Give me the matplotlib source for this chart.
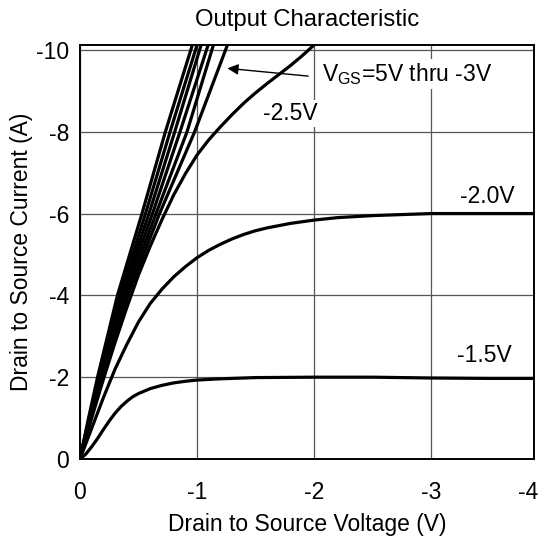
import matplotlib
matplotlib.use("Agg")
import matplotlib.pyplot as plt
from matplotlib.transforms import ScaledTranslation
import numpy as np

plt.rcParams['font.family'] = ['Liberation Sans', 'DejaVu Sans']
plt.rcParams['mathtext.fontset'] = 'custom'
plt.rcParams['mathtext.rm'] = 'Liberation Sans'
plt.rcParams['font.size'] = 16.5

# steep curves (VGS = 5V ... -3V): voltage at each current level
steep_i = [0, -1, -2, -4, -6, -8, -10.12]
steep_v = [
    [0, -0.073, -0.150, -0.320, -0.530, -0.730, -0.960],
    [0, -0.078, -0.160, -0.340, -0.560, -0.770, -1.000],
    [0, -0.080, -0.165, -0.355, -0.590, -0.810, -1.035],
    [0, -0.083, -0.170, -0.370, -0.620, -0.855, -1.095],
    [0, -0.087, -0.180, -0.390, -0.650, -0.915, -1.140],
    [0, -0.092, -0.190, -0.410, -0.680, -0.980, -1.260],
]

v25 = [0, -0.1, -0.2, -0.3, -0.4, -0.5, -0.6, -0.7, -0.8, -0.9, -1.0,
       -1.1, -1.2, -1.3, -1.4, -1.5, -1.6, -1.7, -1.8, -1.9, -2.0]
i25 = [0, -1.0, -1.95, -2.85, -3.7, -4.5, -5.2, -5.85, -6.45, -6.97, -7.43,
       -7.8, -8.12, -8.42, -8.7, -8.95, -9.18, -9.4, -9.62, -9.86, -10.12]

v20 = [0, -0.1, -0.2, -0.3, -0.4, -0.5, -0.6, -0.7, -0.8, -0.9, -1.0,
       -1.1, -1.2, -1.3, -1.4, -1.5, -1.6, -1.8, -2.0, -2.2, -2.5, -2.8,
       -3.0, -3.5, -3.88]
i20 = [0, -0.75, -1.5, -2.2, -2.8, -3.35, -3.8, -4.15, -4.45, -4.7, -4.92,
       -5.1, -5.25, -5.38, -5.49, -5.58, -5.65, -5.76, -5.84, -5.9, -5.95, -5.98,
       -6.0, -6.0, -6.0]

v15 = [0, -0.05, -0.1, -0.15, -0.2, -0.25, -0.3, -0.35, -0.4, -0.45, -0.5,
       -0.6, -0.7, -0.8, -0.9, -1.0, -1.2, -1.5, -2.0, -2.5, -3.0, -3.5, -3.88]
i15 = [0, -0.12, -0.3, -0.5, -0.72, -0.93, -1.12, -1.28, -1.41, -1.52, -1.6,
       -1.72, -1.8, -1.86, -1.9, -1.93, -1.96, -1.99, -2.0, -2.0, -1.98, -1.97, -1.97]

xticks = [0, -1, -2, -3, -3.88]
xtick_labels = ['0', '-1', '-2', '-3', '-4']
yticks = [0, -2, -4, -6, -8, -10]
ytick_labels = ['0', '-2', '-4', '-6', '-8', '-10']

fig = plt.figure(figsize=(5.39, 5.43), dpi=100)
ax = fig.add_axes([0.1484, 0.1547, 0.8423, 0.7624])

lw = 2.3
for v in steep_v:
    ax.plot(v, steep_i, color='black', lw=lw, zorder=3)
ax.plot(v25, i25, color='black', lw=lw, zorder=3)
ax.plot(v20, i20, color='black', lw=lw, zorder=3)
ax.plot(v15, i15, color='black', lw=lw, zorder=3)

ax.set_xlim(0, -3.88)
ax.set_ylim(0, -10.12)
ax.set_xticks(xticks, xtick_labels)
ax.set_yticks(yticks, ytick_labels)
ax.tick_params(axis='both', length=0)
ax.tick_params(axis='x', pad=16)
ax.tick_params(axis='y', pad=8)
ax.grid(True, color='#555555', lw=0.9, zorder=1)
for s in ax.spines.values():
    s.set_linewidth(1.4)
    s.set_zorder(4)

# last x label sits at the right edge
last = ax.get_xticklabels()[-1]
last.set_horizontalalignment('right')
last.set_transform(last.get_transform() + ScaledTranslation(0.04, 0, fig.dpi_scale_trans))

ax.set_title("Output Characteristic", fontsize=17.2, pad=14)
ax.set_xlabel("Drain to Source Voltage (V)", labelpad=6)
ax.set_ylabel("Drain to Source Current (A)", labelpad=2)

box = dict(fc='white', ec='none', pad=1.5)
ax.text(-1.795, -8.29, "-2.5V", ha='center', va='baseline', bbox=box, zorder=5)
ax.text(-3.48, -6.26, "-2.0V", ha='center', va='baseline', bbox=box, zorder=5)
ax.text(-3.46, -2.37, "-1.5V", ha='center', va='baseline', bbox=box, zorder=5)
ax.text(-2.07, -9.25, r"V$_{\mathrm{GS}}$=5V thru -3V", ha='left', va='baseline',
        bbox=box, zorder=5)
ax.annotate('', xy=(-1.26, -9.55), xytext=(-1.95, -9.36),
            arrowprops=dict(arrowstyle='-|>', color='black', lw=1,
                            mutation_scale=16, shrinkA=0, shrinkB=0),
            zorder=5)

fig.savefig("out.png", dpi=100)
